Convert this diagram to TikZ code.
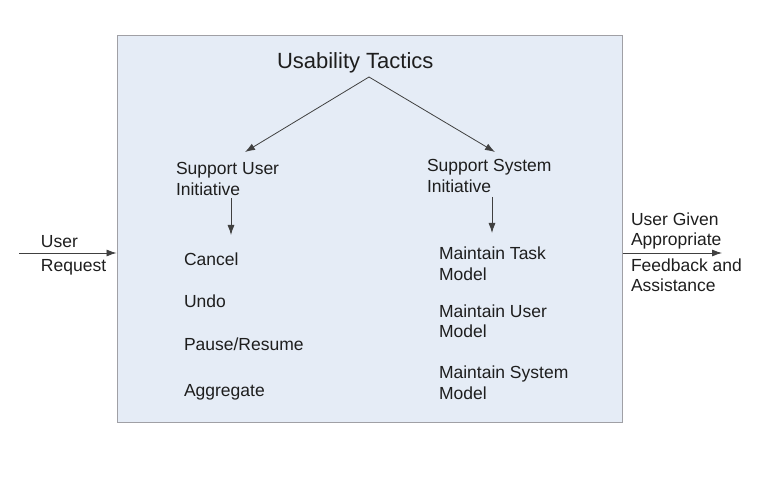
\documentclass[tikz,border=0pt]{standalone}
\usepackage{fontspec}
\setmainfont{Liberation Sans}
\usetikzlibrary{arrows.meta}
\definecolor{boxfill}{RGB}{229,236,246}
\definecolor{boxline}{RGB}{160,160,165}
\definecolor{ink}{RGB}{30,30,30}
\tikzset{
  lbl/.style={anchor=base west, inner sep=0pt, outer sep=0pt, align=left, text=ink,
              font=\fontsize{17.5}{21}\selectfont},
  arr/.style={draw=ink!85, line width=0.8pt, -{Latex[length=10pt,width=7pt]}},
  panel/.style={draw=boxline, line width=1pt, fill=boxfill, inner sep=0pt,
                minimum width=505pt, minimum height=387pt}
}
\begin{document}
\begin{tikzpicture}[x=1pt,y=-1pt]
\useasboundingbox (0,0) rectangle (764,478);
\node[panel] (box) at (369.5,229.5) {};
\node[lbl, font=\fontsize{22}{25}\selectfont] (title) at (277,69) {Usability Tactics};
% multi-line nodes are placed by the baseline of their last line
\node[lbl] (sui) at (176,196) {Support User\\Initiative};
\node[lbl] (ssi) at (427,193) {Support System\\Initiative};
\node[lbl] (cancel) at (184,266) {Cancel};
\node[lbl] (undo) at (184,308) {Undo};
\node[lbl] (pause) at (184,351) {Pause/Resume};
\node[lbl] (aggr) at (184,397) {Aggregate};
\node[lbl] (mtm) at (439,281) {Maintain Task\\Model};
\node[lbl, font=\fontsize{17.5}{20}\selectfont] (mum) at (439,338) {Maintain User\\Model};
\node[lbl] (msm) at (439,400) {Maintain System\\Model};
\node[lbl, font=\fontsize{17.5}{24}\selectfont] (ureq) at (41,272) {User\\Request};
\node[lbl, font=\fontsize{17.5}{20}\selectfont] (ugive) at (631,246) {User Given\\Appropriate};
\node[lbl, font=\fontsize{17.5}{20}\selectfont] (ufeed) at (631,292) {Feedback and\\Assistance};
% connectors
\coordinate (apex) at (369,77);
\coordinate (ltip) at (245,152);
\coordinate (rtip) at (495,152);
\coordinate (lvs) at (231,198);
\coordinate (lve) at (231,235);
\coordinate (rvs) at (492,197);
\coordinate (rve) at (492,233);
\coordinate (inL) at (19,253);
\coordinate (outR) at (722,253);
\draw[arr] (apex) -- (ltip);
\draw[arr] (apex) -- (rtip);
\draw[arr] (lvs) -- (lve);
\draw[arr] (rvs) -- (rve);
\draw[arr] (inL) -- (inL -| box.west);
\draw[arr] (outR -| box.east) -- (outR);
\end{tikzpicture}
\end{document}
